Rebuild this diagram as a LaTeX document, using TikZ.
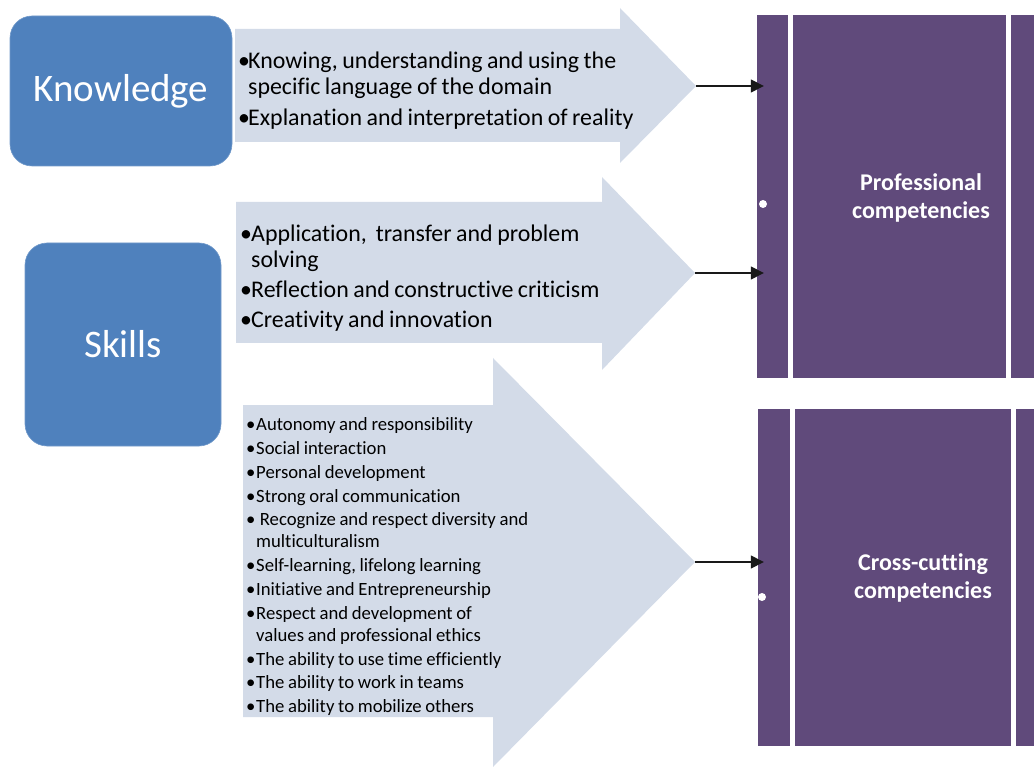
\documentclass[tikz,border=0pt]{standalone}
\usepackage{fontspec}
\setmainfont{Carlito}[Ligatures=NoCommon]
\usetikzlibrary{arrows.meta}
\definecolor{boxblue}{HTML}{4F81BD}
\definecolor{arrowfill}{HTML}{D3DBE8}
\definecolor{panelpurple}{HTML}{604A7B}
\newcommand{\bulletitem}[2]{\par\noindent\hangindent=#1\hangafter=1\makebox[#1][l]{\textbullet}#2}
\begin{document}
\begin{tikzpicture}[x=1pt,y=-1pt,
  catbox/.style={fill=boxblue, draw=boxblue!80!white, line width=0.6pt, rounded corners=22pt,
    text=white, font=\fontsize{39}{44}\selectfont, inner sep=0pt},
  blockarrow/.style={fill=arrowfill, draw=none},
  listtext/.style={anchor=base west, inner sep=0pt, text width=420pt, align=left, text=black},
  panel/.style={fill=panelpurple, draw=none, inner sep=0pt},
  panellabel/.style={text=white, font=\bfseries\fontsize{24}{28}\selectfont, align=center, inner sep=0pt},
  link/.style={draw=black!90, line width=1.4pt, -{Triangle[length=13pt,width=13pt]}},
  dot/.style={fill=white}
]
\useasboundingbox (0,0) rectangle (1034,767);

% category boxes
\node[catbox, minimum width=222pt, minimum height=150pt] (know) at (121,91) {Knowledge};
\node[catbox, minimum width=196pt, minimum height=203pt] (skills) at (123,344.5) {Skills};

% block arrows
\path[blockarrow] (235,29) -- (620,29) -- (620,8) -- (696,86) -- (620,163) -- (620,142) -- (235,142) -- cycle;
\coordinate (tip1) at (696,86);
\path[blockarrow] (236,202) -- (602,202) -- (602,177) -- (695,273) -- (602,370) -- (602,343) -- (236,343) -- cycle;
\coordinate (tip2) at (695,273);
\path[blockarrow] (243,405) -- (493,405) -- (493,358) -- (695,562) -- (493,767) -- (493,717) -- (243,717) -- cycle;
\coordinate (tip3) at (695,562);

% arrow texts (tight word spacing)
\node[listtext, font=\fontsize{23.9}{26}\selectfont] (knowlist) at (238,38) {%
  \spaceskip=4.5pt plus 1pt minus 0.5pt\setlength{\parskip}{5pt}%
  \bulletitem{10pt}{Knowing, understanding and using the\newline specific language of the domain}%
  \bulletitem{10pt}{Explanation and interpretation of reality}};
\node[listtext, font=\fontsize{23.9}{26}\selectfont] (skilllist) at (240,212) {%
  \spaceskip=4.5pt plus 1pt minus 0.5pt\setlength{\parskip}{4pt}%
  \bulletitem{11pt}{Application,\ \ transfer and problem\newline solving}%
  \bulletitem{11pt}{Reflection and constructive criticism}%
  \bulletitem{11pt}{Creativity and innovation}};
\node[listtext, font=\fontsize{18.7}{22}\selectfont] (crosslist) at (246,407) {%
  \spaceskip=3.7pt plus 1pt minus 0.5pt\setlength{\parskip}{1.8pt}%
  \bulletitem{10pt}{Autonomy and responsibility}%
  \bulletitem{10pt}{Social interaction}%
  \bulletitem{10pt}{Personal development}%
  \bulletitem{10pt}{Strong oral communication}%
  \bulletitem{10pt}{\ Recognize and respect diversity and\newline multiculturalism}%
  \bulletitem{10pt}{Self-learning, lifelong learning}%
  \bulletitem{10pt}{Initiative and Entrepreneurship}%
  \bulletitem{10pt}{Respect and development of\newline values and professional ethics}%
  \bulletitem{10pt}{The ability to use time efficiently}%
  \bulletitem{10pt}{The ability to work in teams}%
  \bulletitem{10pt}{The ability to mobilize others}};

% competency panels
\node[panel, minimum width=31pt, minimum height=363pt] (lstripA) at (772.5,196.5) {};
\node[panel, minimum width=213pt, minimum height=363pt] (mainA) at (899.5,196.5) {};
\node[panel, minimum width=30pt, minimum height=363pt] (rstripA) at (1026,196.5) {};
\node[panellabel] (profA) at (921,198) {Professional\\competencies};

\node[panel, minimum width=32pt, minimum height=337pt] (lstripB) at (774,577.5) {};
\node[panel, minimum width=216pt, minimum height=337pt] (mainB) at (903,577.5) {};
\node[panel, minimum width=26pt, minimum height=337pt] (rstripB) at (1029,577.5) {};
\node[panellabel] (crossB) at (923,578) {Cross-cutting\\competencies};

% small white marks on the left strips
\fill[dot] (763,204) circle (4pt);
\fill[dot] (762,597) circle (4pt);

% connectors from arrow tips into the panels
\coordinate (endA1) at ([xshift=7pt]lstripA.west |- tip1);
\coordinate (endA2) at ([xshift=7pt]lstripA.west |- tip2);
\coordinate (endB) at ([xshift=6pt]lstripB.west |- tip3);
\draw[link] (tip1) -- (endA1);
\draw[link] (tip2) -- (endA2);
\draw[link] (tip3) -- (endB);
\end{tikzpicture}
\end{document}
